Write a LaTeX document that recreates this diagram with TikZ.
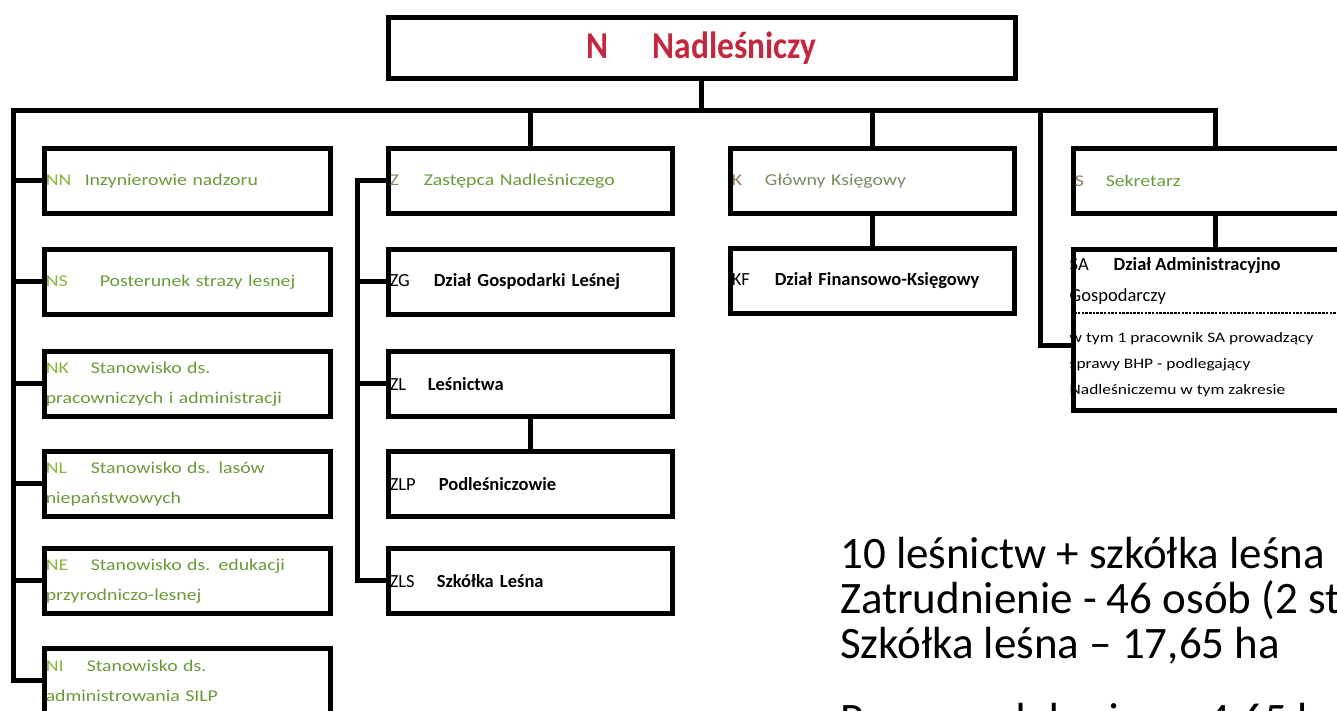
\documentclass[tikz,border=0pt]{standalone}
\usepackage{fontspec}
\setmainfont{Carlito}
\newfontfamily\titlefont{Carlito}[FakeStretch=0.88]
\newfontfamily\greenfont{Carlito}[FakeStretch=1.2]
\definecolor{titlered}{HTML}{C4283F}
\definecolor{lgreen}{HTML}{6B9A3A}
\definecolor{abgreen}{HTML}{8CB43C}
\definecolor{kgray}{HTML}{8C7F62}
\definecolor{kgreen}{HTML}{7D8C62}
\newcommand\ab[3][abgreen]{\makebox[#2][l]{\textcolor{#1}{#3}}}
\tikzset{
  box/.style={draw=black, line width=5.5pt, fill=white, anchor=north west,
    inner xsep=1.5pt, inner ysep=0pt, align=left, minimum height=65pt},
  lbox/.style={box, minimum width=286pt, text width=283pt,
    font=\greenfont\fontsize{16.5}{30}\selectfont, text=lgreen},
  mbox/.style={box, minimum width=284pt, text width=281pt,
    font=\fontsize{18.5}{30}\selectfont},
  gtext/.style={font=\greenfont\fontsize{16.5}{30}\selectfont},
  conn/.style={draw=black, line width=5pt, line join=miter},
  note/.style={anchor=base west, inner sep=0pt, font=\fontsize{45}{46}\selectfont},
}
\begin{document}
\begin{tikzpicture}[x=1pt,y=-1pt]
\useasboundingbox (0,0) rectangle (1337,710);
\fill[white] (0,0) rectangle (1337,710);
\clip (0,0) rectangle (1337,710);

% top box
\node[box, minimum width=627pt, minimum height=61pt, align=center] (n) at (385.5,14.5)
  {\titlefont\bfseries\fontsize{38}{40}\selectfont\textcolor{titlered}{N\hspace{44pt}Nadleśniczy}};

% left column
\node[lbox] (nn) at (41.5,145.5) {\ab{39pt}{NN}Inzynierowie nadzoru};
\node[lbox] (ns) at (41.5,246.5) {\ab{54pt}{NS}Posterunek strazy lesnej};
\node[lbox] (nk) at (41.5,348.5) {\ab{45pt}{NK}Stanowisko ds.\\pracowniczych i administracji};
\node[lbox] (nl) at (41.5,448.5) {\ab{45pt}{NL}Stanowisko ds. lasów\\niepaństwowych};
\node[lbox] (ne) at (41.5,545.5) {\ab{45pt}{NE}Stanowisko ds. edukacji\\przyrodniczo-lesnej};
\node[lbox] (ni) at (41.5,645.5) {\ab{41pt}{NI}Stanowisko ds.\\administrowania SILP};

% middle column
\node[mbox, gtext, text=lgreen] (z) at (385.5,145.5)
  {\ab[kgreen]{34pt}{Z}Zastępca Nadleśniczego};
\node[mbox] (zg) at (385.5,246.5) {\ab[black]{44pt}{ZG}\textbf{Dział Gospodarki Leśnej}};
\node[mbox] (zl) at (385.5,348.5) {\ab[black]{38pt}{ZL}\textbf{Leśnictwa}};
\node[mbox] (zlp) at (385.5,448.5) {\ab[black]{49pt}{ZLP}\textbf{Podleśniczowie}};
\node[mbox] (zls) at (385.5,545.5) {\ab[black]{47pt}{ZLS}\textbf{Szkółka Leśna}};

% K column
\node[mbox, gtext, text=kgreen] (k) at (727.5,145.5)
  {\ab[kgray]{33pt}{K}Główny Księgowy};
\node[mbox] (kf) at (727.5,245.5) {\ab[black]{43pt}{KF}\textbf{Dział Finansowo-Księgowy}};

% S column
\node[mbox, gtext, text=lgreen] (s) at (1070.5,145.5)
  {\ab[kgray]{31pt}{S}Sekretarz};
\node[box, minimum width=284pt, minimum height=161pt] (sa) at (1070.5,246.5) {};
\node[anchor=north west, inner sep=0pt, align=left, font=\fontsize{18.5}{31}\selectfont] (sat)
  at ([xshift=-1pt,yshift=-11pt]sa.north west) {\makebox[44pt][l]{SA}\textbf{Dział Administracyjno}\\Gospodarczy};
\draw[black, line width=1.2pt, dash pattern=on 2.5pt off 1.2pt]
  ([yshift=-66.5pt]sa.north west) -- ([yshift=-66.5pt]sa.north east);
\node[anchor=north west, inner sep=0pt, align=left, font=\greenfont\fontsize{14.5}{26}\selectfont] (sab)
  at ([xshift=-1pt,yshift=-86pt]sa.north west)
  {w tym 1 pracownik SA prowadzący\\sprawy BHP - podlegający\\Nadleśniczemu w tym zakresie};

% connectors
\coordinate (busL) at (13,110);
\coordinate (busR) at (s.north |- busL);
\coordinate (bS) at (1040,110);
\coordinate (saj) at (1040,345);
\coordinate (zx) at (357,0);
\draw[conn] (ni.west) -| (busL) -- (busR) -- (s.north);
\draw[conn] (n.south) -- (n.south |- busL);
\foreach \b in {nn,ns,nk,nl,ne} \draw[conn] (\b.west) -- (\b.west -| busL);
\draw[conn] (z.north) -- (z.north |- busL);
\draw[conn] (k.north) -- (k.north |- busL);
\draw[conn] (z.west) -| (zls.west -| zx) -- (zls.west);
\foreach \b in {zg,zl} \draw[conn] (\b.west) -- (\b.west -| zx);
\draw[conn] (zl.south) -- (zlp.north);
\draw[conn] (k.south) -- (kf.north);
\draw[conn] (s.south) -- (sa.north);
\draw[conn] (bS) -- (saj) -- (saj -| sa.west);

% notes
\node[note] (note1) at (840,568) {10 leśnictw + szkółka leśna};
\node[note] (note2) at (840,613) {Zatrudnienie - 46 osób (2 st};
\node[note] (note3) at (840,658) {Szkółka leśna – 17,65 ha};
\node[note] (note4) at (840,734) {Pow. produkcyjna – 4,65 ha};
\end{tikzpicture}
\end{document}
